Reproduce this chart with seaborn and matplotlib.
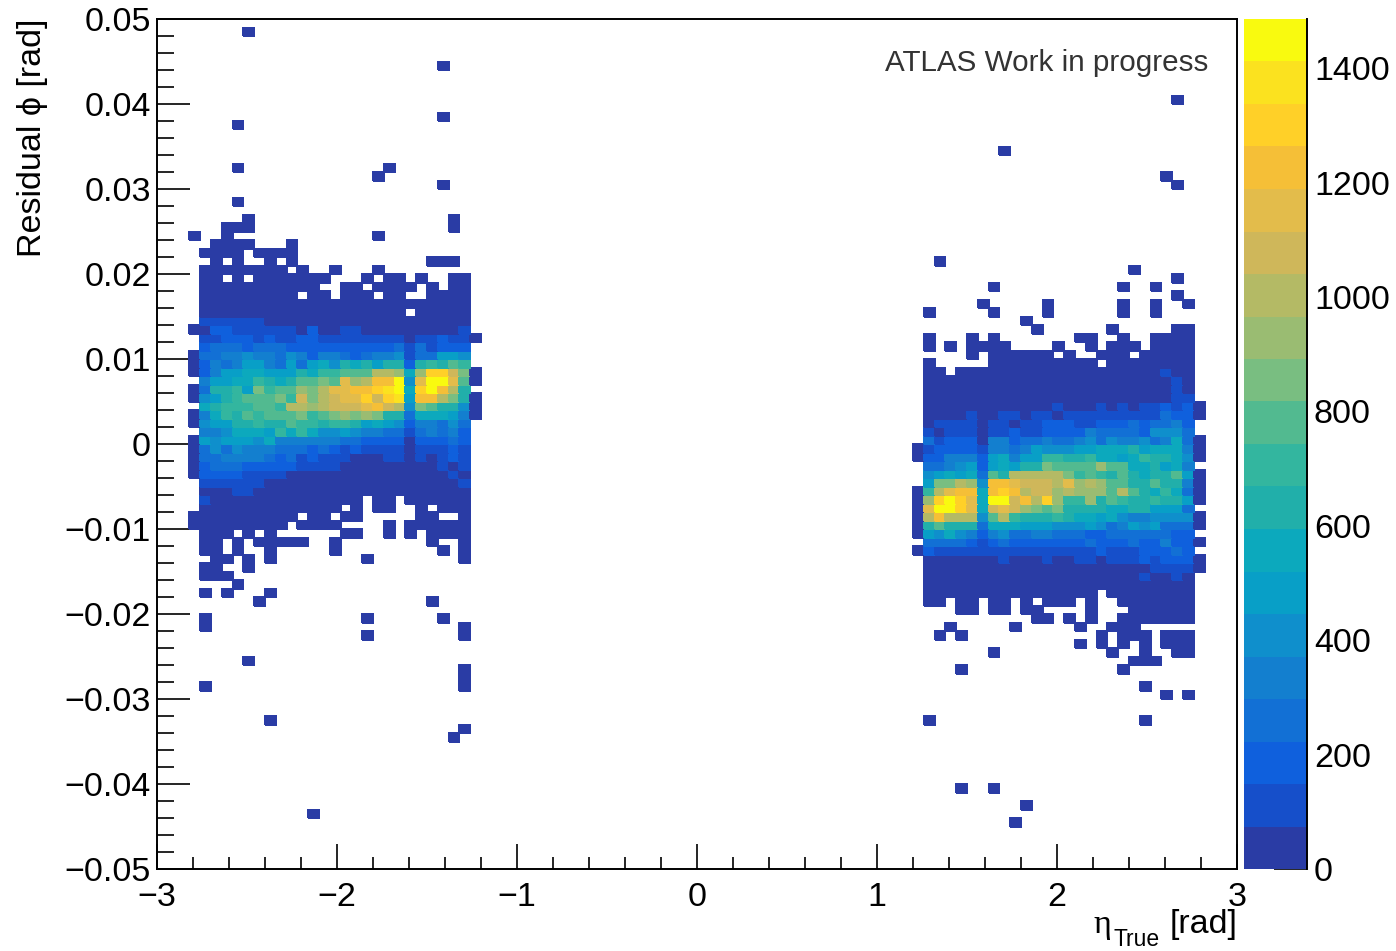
#!/usr/bin/env python3
# plot.py
# 2D histogram of the phi residual against true eta (100 x 100 bins)

import matplotlib
matplotlib.use("Agg")
import matplotlib.pyplot as plt
from matplotlib.colors import ListedColormap
from matplotlib.ticker import MultipleLocator
import pandas as pd
import seaborn as sns

# Band colours of the palette, from the lowest band to the highest
PALETTE = ["#2a3ca5", "#164fca", "#0f60dd", "#1270d5", "#137fcf", "#0f8fcc", "#089fc7",
           "#0ca9bd", "#21afaa", "#33b69f", "#52ba90", "#79be81", "#9abc72", "#b4ba65",
           "#cfb75a", "#e3bc4b", "#f5bf37", "#ffd028", "#fbe21f", "#f9fa0f"]
Z_MAX = 1486
LOW_COUNT = 30

x_ticks = [-3, -2, -1, 0, 1, 2, 3]
x_tick_labels = ["\u22123", "\u22122", "\u22121", "0", "1", "2", "3"]
y_ticks = [-0.05, -0.04, -0.03, -0.02, -0.01, 0, 0.01, 0.02, 0.03, 0.04, 0.05]
y_tick_labels = ["\u22120.05", "\u22120.04", "\u22120.03", "\u22120.02", "\u22120.01", "0",
                 "0.01", "0.02", "0.03", "0.04", "0.05"]
z_ticks = [0, 200, 400, 600, 800, 1000, 1200, 1400]

# Populated core of the negative eta block: rows 35 to 56 from the top, eta bins 3 to 29
left_first_row = 35
left_first_bin = 3
left_counts = [
    [0, 110, 110, 110, 110, 110, 110, 30, 30, 30, 30, 30, 30, 30, 30, 30, 30, 30, 30, 30, 30, 30, 30, 30, 30, 30, 0],
    [30, 30, 185, 185, 110, 110, 110, 110, 110, 110, 30, 185, 30, 30, 110, 110, 30, 30, 30, 30, 30, 30, 30, 30, 30, 110, 0],
    [0, 110, 110, 185, 185, 185, 110, 185, 110, 110, 185, 185, 110, 110, 110, 110, 110, 110, 110, 110, 30, 110, 110, 185, 110, 110, 30],
    [0, 185, 260, 260, 260, 185, 260, 260, 260, 185, 185, 185, 185, 185, 185, 185, 185, 185, 185, 260, 110, 260, 110, 185, 185, 185, 0],
    [30, 260, 260, 335, 335, 410, 335, 335, 260, 410, 335, 185, 335, 335, 260, 185, 260, 335, 335, 410, 110, 260, 260, 480, 480, 410, 0],
    [30, 185, 335, 260, 335, 480, 480, 335, 260, 480, 260, 480, 555, 410, 630, 555, 630, 480, 630, 630, 185, 630, 705, 630, 780, 705, 0],
    [30, 185, 335, 480, 480, 555, 555, 480, 480, 480, 630, 555, 705, 705, 780, 780, 780, 1000, 1000, 930, 555, 930, 1300, 1300, 1075, 855, 30],
    [0, 335, 480, 480, 555, 555, 705, 630, 555, 630, 780, 780, 855, 780, 1150, 930, 1000, 1225, 1225, 1450, 410, 1150, 1450, 1450, 1150, 780, 30],
    [30, 260, 630, 630, 705, 480, 855, 705, 780, 780, 930, 855, 1000, 1150, 1150, 1225, 1225, 1300, 1375, 1450, 555, 1300, 1450, 1225, 1000, 630, 0],
    [30, 410, 480, 630, 705, 780, 780, 780, 855, 705, 1075, 855, 1000, 1075, 1150, 1150, 1300, 1075, 1300, 1375, 480, 1225, 1225, 1000, 855, 630, 30],
    [0, 555, 630, 705, 705, 705, 780, 780, 705, 1000, 1000, 930, 1000, 1075, 1075, 1075, 1150, 1225, 1075, 1000, 410, 855, 780, 630, 630, 410, 30],
    [30, 335, 555, 705, 630, 780, 705, 780, 780, 780, 855, 705, 780, 855, 930, 855, 930, 855, 630, 630, 260, 555, 555, 555, 480, 335, 30],
    [30, 410, 480, 480, 630, 630, 705, 630, 630, 780, 705, 705, 630, 705, 705, 630, 480, 555, 480, 410, 185, 335, 335, 260, 410, 260, 0],
    [0, 335, 335, 410, 555, 555, 555, 480, 705, 555, 705, 555, 410, 410, 480, 410, 335, 335, 260, 260, 110, 260, 335, 260, 335, 185, 0],
    [30, 480, 410, 480, 480, 480, 410, 555, 335, 335, 335, 335, 335, 335, 260, 260, 185, 185, 185, 185, 30, 185, 185, 185, 260, 185, 0],
    [30, 260, 410, 260, 410, 335, 335, 335, 260, 260, 260, 185, 260, 185, 110, 185, 110, 110, 110, 110, 30, 110, 110, 110, 185, 110, 0],
    [30, 260, 260, 335, 335, 335, 335, 260, 185, 260, 110, 185, 110, 110, 110, 30, 30, 30, 110, 110, 30, 110, 30, 110, 185, 110, 0],
    [30, 185, 260, 260, 260, 185, 185, 185, 185, 185, 110, 110, 110, 110, 30, 30, 30, 30, 30, 30, 30, 30, 30, 110, 30, 110, 0],
    [30, 185, 185, 185, 185, 110, 110, 110, 110, 30, 30, 30, 30, 30, 30, 30, 30, 30, 30, 30, 30, 30, 30, 30, 110, 30, 0],
    [0, 110, 110, 110, 110, 110, 110, 30, 30, 30, 30, 30, 30, 30, 30, 30, 30, 30, 30, 30, 30, 30, 30, 30, 30, 110, 0],
    [0, 30, 30, 30, 110, 110, 30, 30, 30, 30, 30, 30, 30, 30, 30, 30, 30, 30, 30, 30, 30, 30, 30, 30, 30, 30, 0],
    [0, 110, 30, 30, 30, 30, 30, 30, 30, 30, 30, 30, 30, 30, 30, 30, 0, 30, 30, 0, 30, 30, 30, 30, 30, 30, 0],
]

# Populated core of the positive eta block: rows 41 to 65 from the top, eta bins 70 to 96
right_first_row = 41
right_first_bin = 70
right_counts = [
    [0, 30, 30, 0, 30, 30, 30, 30, 30, 30, 30, 30, 30, 30, 30, 30, 30, 30, 30, 30, 30, 30, 30, 110, 30, 30, 0],
    [0, 30, 30, 30, 30, 30, 30, 30, 30, 30, 30, 30, 30, 30, 30, 30, 30, 30, 30, 30, 30, 30, 30, 30, 110, 30, 0],
    [0, 30, 30, 30, 30, 30, 30, 30, 30, 30, 30, 30, 30, 30, 30, 30, 30, 30, 30, 30, 30, 30, 30, 30, 110, 30, 0],
    [0, 30, 30, 30, 30, 30, 30, 30, 30, 30, 30, 30, 30, 30, 30, 30, 30, 30, 30, 30, 30, 30, 30, 30, 110, 110, 0],
    [0, 30, 30, 30, 30, 30, 30, 30, 30, 30, 30, 30, 30, 110, 30, 30, 30, 110, 30, 110, 30, 110, 110, 185, 110, 185, 30],
    [0, 30, 30, 30, 30, 110, 30, 30, 110, 110, 30, 110, 110, 30, 110, 110, 110, 110, 110, 110, 110, 110, 110, 260, 185, 185, 30],
    [0, 30, 110, 110, 110, 110, 30, 110, 110, 30, 110, 110, 185, 185, 185, 110, 110, 185, 185, 185, 260, 185, 260, 260, 335, 185, 0],
    [0, 110, 30, 110, 110, 110, 30, 110, 110, 185, 110, 110, 185, 185, 185, 185, 335, 260, 260, 260, 260, 185, 410, 410, 410, 260, 0],
    [0, 260, 110, 185, 185, 185, 30, 335, 335, 185, 260, 260, 335, 260, 260, 335, 410, 260, 410, 335, 335, 410, 260, 335, 555, 260, 30],
    [30, 110, 185, 185, 185, 185, 110, 335, 335, 260, 335, 480, 410, 410, 410, 480, 480, 555, 555, 555, 630, 480, 555, 555, 555, 335, 30],
    [30, 185, 185, 335, 335, 335, 185, 480, 555, 335, 480, 480, 705, 705, 630, 630, 705, 555, 555, 480, 555, 705, 630, 630, 555, 410, 30],
    [0, 260, 260, 335, 410, 480, 185, 480, 555, 480, 630, 630, 855, 780, 780, 780, 780, 930, 780, 780, 555, 555, 630, 480, 555, 335, 0],
    [0, 410, 480, 555, 480, 555, 260, 780, 630, 1000, 1000, 1000, 1000, 1000, 855, 705, 780, 705, 630, 780, 630, 555, 630, 630, 780, 480, 30],
    [0, 480, 855, 855, 1000, 930, 410, 1225, 1225, 1150, 1075, 1075, 1075, 1000, 1150, 930, 1000, 930, 780, 780, 630, 630, 780, 630, 630, 335, 30],
    [30, 705, 1000, 1150, 1225, 1225, 555, 1225, 1300, 1225, 1000, 1075, 1075, 930, 1000, 930, 930, 930, 780, 1000, 780, 630, 555, 705, 555, 260, 30],
    [30, 930, 1300, 1450, 1300, 1150, 555, 1450, 1450, 1075, 1225, 1000, 1300, 930, 705, 705, 930, 630, 780, 705, 630, 630, 705, 630, 630, 480, 30],
    [30, 1150, 1450, 1450, 1300, 1150, 555, 1075, 1150, 1075, 930, 855, 780, 855, 630, 630, 630, 630, 555, 555, 630, 630, 480, 480, 480, 260, 0],
    [30, 1000, 1225, 1000, 1000, 1000, 410, 780, 1000, 705, 630, 630, 630, 705, 630, 555, 555, 480, 555, 410, 335, 335, 410, 410, 410, 410, 30],
    [30, 630, 780, 630, 630, 630, 260, 555, 555, 555, 480, 480, 480, 410, 410, 410, 480, 410, 260, 335, 480, 410, 480, 260, 260, 260, 30],
    [30, 480, 410, 555, 410, 335, 185, 335, 410, 260, 260, 335, 335, 260, 260, 260, 185, 185, 260, 260, 260, 260, 260, 260, 185, 185, 0],
    [0, 260, 260, 260, 260, 185, 110, 185, 260, 185, 185, 185, 185, 185, 185, 185, 260, 185, 185, 185, 260, 185, 185, 335, 185, 185, 30],
    [30, 185, 110, 110, 110, 110, 110, 110, 110, 110, 110, 110, 110, 110, 110, 110, 110, 185, 110, 110, 110, 185, 185, 185, 260, 185, 0],
    [0, 30, 30, 30, 30, 30, 30, 30, 110, 30, 30, 30, 110, 30, 30, 110, 110, 30, 110, 110, 110, 185, 110, 185, 185, 185, 30],
    [0, 30, 30, 30, 30, 30, 30, 30, 30, 30, 30, 30, 30, 30, 30, 30, 30, 30, 30, 30, 30, 30, 110, 110, 110, 110, 30],
    [0, 30, 30, 30, 30, 30, 30, 30, 30, 30, 30, 30, 30, 30, 30, 30, 30, 30, 30, 30, 30, 110, 30, 30, 110, 30, 0],
]

# Thinly filled rows, all in the lowest band: row from the top, then (first, last) eta bins
sparse_rows = [1, 5, 9, 11, 12, 15, 17, 18, 19, 21, 23, 24, 25, 26, 27, 28, 29, 30, 31, 32, 33, 34,
               35, 36, 37, 38, 39, 40, 57, 58, 59, 60, 61, 62, 63, 64, 65, 66, 67, 68, 69, 70, 71,
               72, 73, 74, 75, 76, 77, 78, 79, 82, 83, 84, 90, 92, 93, 94]
sparse_spans = [
    [(8, 8)], [(26, 26)], [(94, 94)], [(26, 26)], [(7, 7)], [(78, 78)], [(7, 7), (21, 21)],
    [(20, 20), (93, 93)], [(26, 26), (94, 94)], [(7, 7)], [(8, 8), (27, 27)], [(6, 8), (27, 27)],
    [(3, 3), (6, 6), (20, 20)], [(5, 8), (12, 12)], [(4, 7), (9, 12)],
    [(5, 5), (7, 7), (10, 10), (12, 12), (25, 27), (72, 72)],
    [(4, 11), (13, 13), (16, 16), (20, 20), (90, 90)],
    [(4, 5), (7, 7), (9, 15), (19, 19), (21, 22), (24, 24), (27, 28), (94, 94)],
    [(4, 14), (17, 18), (20, 23), (25, 25), (27, 28), (77, 77), (89, 89), (92, 92)],
    [(4, 12), (14, 15), (17, 19), (21, 22), (25, 28), (94, 94)],
    [(4, 28), (76, 76), (82, 82), (89, 89), (92, 92), (95, 95)],
    [(4, 22), (24, 28), (71, 71), (77, 77), (82, 82), (89, 89), (92, 92)],
    [(80, 80)], [(81, 81), (88, 88), (94, 95)],
    [(71, 71), (75, 75), (77, 77), (85, 86), (89, 89), (92, 95)],
    [(71, 71), (73, 73), (75, 78), (83, 83), (86, 86), (88, 90), (92, 95)],
    [(75, 75), (77, 82), (84, 84), (87, 89), (91, 95)],
    [(71, 71), (77, 86), (88, 95)],
    [(4, 16), (18, 18), (20, 21), (24, 24), (26, 28)],
    [(3, 12), (14, 15), (17, 18), (24, 25), (28, 28)],
    [(3, 11), (13, 16), (21, 21), (23, 28)],
    [(4, 6), (8, 8), (10, 10), (17, 18), (21, 21), (23, 23), (25, 28)],
    [(4, 5), (7, 7), (9, 13), (16, 16), (25, 25), (28, 28)],
    [(4, 5), (7, 7), (10, 10), (16, 16), (26, 26), (28, 28)],
    [(5, 6), (8, 8), (10, 10), (19, 19), (28, 28)],
    [(4, 5), (8, 8)],
    [(4, 6)],
    [(7, 7), (71, 95)],
    [(4, 4), (6, 6), (10, 10), (71, 86), (88, 95)],
    [(9, 9), (25, 25), (71, 72), (74, 75), (77, 78), (80, 80), (82, 84), (86, 86), (89, 95)],
    [(74, 75), (77, 78), (80, 81), (86, 86), (90, 95)],
    [(4, 4), (19, 19), (26, 26), (81, 82), (84, 84), (86, 86), (89, 95)],
    [(4, 4), (28, 28), (73, 73), (79, 79), (85, 85), (88, 90)],
    [(19, 19), (28, 28), (72, 72), (74, 74), (87, 87), (89, 91), (93, 95)],
    [(85, 85), (87, 87), (89, 89), (91, 91), (93, 95)],
    [(77, 77), (88, 88), (91, 91), (94, 95)],
    [(8, 8), (90, 92)],
    [(28, 28), (74, 74), (89, 89)],
    [(28, 28)],
    [(4, 4), (28, 28), (91, 91)],
    [(93, 93), (95, 95)],
    [(10, 10), (71, 71), (91, 91)],
    [(28, 28)],
    [(27, 27)],
    [(74, 74), (77, 77)],
    [(80, 80)],
    [(14, 14)],
    [(79, 79)],
]

# Turn the bins into a table for the histogram
rows = []
for first_row, first_bin, block in [(left_first_row, left_first_bin, left_counts),
                                    (right_first_row, right_first_bin, right_counts)]:
    for r, line in enumerate(block):
        for c, count in enumerate(line):
            if count > 0:
                rows.append((first_bin + c, first_row + r, count))
for r, spans in zip(sparse_rows, sparse_spans):
    for first, last in spans:
        for c in range(first, last + 1):
            rows.append((c, r, LOW_COUNT))

df = pd.DataFrame(rows, columns=["bin", "row", "count"])
df["eta"] = -3 + 0.06 * (df["bin"] + 0.5)
df["phi"] = 0.05 - 0.001 * (df["row"] + 0.5)

sns.set_style("white")
plt.rcParams["font.family"] = ["Liberation Sans", "DejaVu Sans"]
plt.rcParams["text.color"] = "black"
plt.rcParams["axes.labelcolor"] = "black"
plt.rcParams["xtick.color"] = "black"
plt.rcParams["ytick.color"] = "black"

W, H = 1396, 951
fig = plt.figure(figsize=(W / 100, H / 100), dpi=100)
ax = fig.add_axes([157 / W, (H - 869) / H, 1080 / W, 850 / H])
cax = fig.add_axes([1244 / W, (H - 869) / H, 63 / W, 850 / H])

sns.histplot(data=df, x="eta", y="phi", weights="count", bins=100,
             binrange=((-3, 3), (-0.05, 0.05)), cmap=ListedColormap(PALETTE),
             vmin=0, vmax=Z_MAX, cbar=True, cbar_ax=cax,
             cbar_kws={"ticks": z_ticks}, edgecolor="face", linewidth=0.35, ax=ax)

# Axes
ax.set_xlim(-3, 3)
ax.set_ylim(-0.05, 0.05)
ax.set_xticks(x_ticks, x_tick_labels)
ax.set_yticks(y_ticks, y_tick_labels)
ax.xaxis.set_minor_locator(MultipleLocator(0.2))
ax.yaxis.set_minor_locator(MultipleLocator(0.002))
ax.tick_params(axis="x", which="major", direction="in", length=18, width=1.2, labelsize=24.5, pad=9, bottom=True)
ax.tick_params(axis="x", which="minor", direction="in", length=9, width=1.2, bottom=True)
ax.tick_params(axis="y", which="major", direction="in", length=24, width=1.2, labelsize=24.5, pad=4.5, left=True)
ax.tick_params(axis="y", which="minor", direction="in", length=12, width=1.2, left=True)
for side in ax.spines:
    ax.spines[side].set_visible(True)
    ax.spines[side].set_color("black")
    ax.spines[side].set_linewidth(1.4)

ax.set_xlabel("")
ax.set_ylabel("Residual \u03d5 [rad]", fontsize=24.5, loc="top", labelpad=12)

# x title in pieces, the subscript sits well below the baseline
fig.text(1093 / W, (H - 932.5) / H, "\u03b7", fontsize=24.5, family="Liberation Serif", va="baseline")
fig.text(1113 / W, (H - 946) / H, "True", fontsize=16.5, va="baseline")
fig.text(1237 / W, (H - 932.5) / H, "[rad]", fontsize=24.5, ha="right", va="baseline")

fig.text(1208 / W, (H - 70.7) / H, "ATLAS Work in progress", ha="right", va="baseline",
         fontsize=21.3, color="#333333")

# Colour bar
cbar = ax.collections[0].colorbar
cbar.outline.set_visible(False)
cax.spines["right"].set_visible(True)
cax.spines["right"].set_color("black")
cax.spines["right"].set_linewidth(1.4)
cax.tick_params(axis="y", which="major", direction="in", length=24, width=1.2,
                labelsize=24.5, pad=5, right=True, left=False, color="black")

fig.savefig("out.png", dpi=100)
